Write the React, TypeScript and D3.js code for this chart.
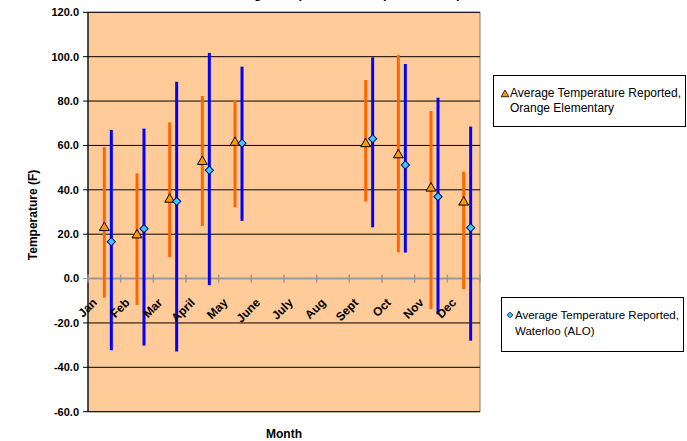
import React from "react";
import * as d3 from "d3";

const months = ["Jan", "Feb", "Mar", "April", "May", "June", "July", "Aug", "Sept", "Oct", "Nov", "Dec"];
const orangeHigh: (number | null)[] = [59.2, 47.4, 70.4, 82.3, 80.5, null, null, null, 89.5, 100.8, 75.5, 48.2];
const orangeLow: (number | null)[] = [-8.6, -11.9, 9.6, 23.7, 32.1, null, null, null, 34.7, 11.8, -13.7, -4.8];
const orangeAvg: (number | null)[] = [22.9, 19.6, 35.7, 52.7, 61.3, null, null, null, 60.7, 55.7, 40.7, 34.4];
const waterlooHigh: (number | null)[] = [67, 67.6, 88.7, 101.7, 95.5, null, null, null, 99.7, 96.7, 81.5, 68.5];
const waterlooLow: (number | null)[] = [-32.3, -30.2, -32.9, -3.0, 26.0, null, null, null, 23.1, 11.7, -16.1, -28];
const waterlooAvg: (number | null)[] = [16.6, 22.5, 34.8, 48.8, 61, null, null, null, 63, 51.2, 36.9, 22.9];
const yTicks = [-60, -40, -20, 0, 20, 40, 60, 80, 100, 120];
const legendOrange = ["Average Temperature Reported,", "Orange Elementary"];
const legendWaterloo = ["Average Temperature Reported,", "Waterloo (ALO)"];
const title = "Average Temperature Comparison Graph";

const W = 687, H = 441;
const L = 88, R = 480, T = 12.3, B = 411.7;

export default function App() {
  const x = d3.scaleBand<string>().domain(months).range([L, R]).paddingInner(0).paddingOuter(0);
  const y = d3.scaleLinear().domain([-60, 120]).range([B, T]);
  const bw = x.bandwidth();
  const cx = (m: string) => (x(m) as number) + bw / 2;
  const off = 7;
  const font = "Arial, 'Liberation Sans', sans-serif";
  const tri = d3.symbol().type(d3.symbolTriangle).size(42)() as string;
  const dia = d3.symbol().type(d3.symbolSquare).size(34)() as string;
  const idx = months.map((_, i) => i);

  return (
    <svg width={W} height={H} style={{ position: "absolute", left: 0, top: 0, background: "#fff" }} fontFamily={font}>
      <text x={345} y={-2} textAnchor="middle" fontWeight="bold" fontSize={13}>{title}</text>
      <rect x={L} y={T} width={R - L} height={B - T} fill="#FFCC99" stroke="#808080" strokeWidth={1} />
      {yTicks.filter(t => t !== 0 && t !== -60).map(t => (
        <line key={"g" + t} x1={L} x2={R} y1={y(t)} y2={y(t)} stroke="#000" strokeWidth={1} />
      ))}
      <line x1={L} x2={R} y1={B} y2={B} stroke="#000" strokeWidth={1} />
      {/* y axis */}
      <line x1={L} x2={L} y1={T} y2={B} stroke="#000" strokeWidth={1.2} />
      {yTicks.map(t => (
        <g key={"yt" + t}>
          <line x1={L - 5} x2={L} y1={y(t)} y2={y(t)} stroke={t === 0 ? "#999" : "#000"} strokeWidth={1} />
          <text x={79} y={y(t)} dy="0.35em" textAnchor="end" fontWeight="bold" fontSize={11}>
            {t.toFixed(1)}
          </text>
        </g>
      ))}
      {/* x axis at 0 */}
      <line x1={L} x2={R} y1={y(0)} y2={y(0)} stroke="#999" strokeWidth={2} />
      {months.map(m => (
        <line key={"xt" + m} x1={(x(m) as number) + bw} x2={(x(m) as number) + bw} y1={y(0) - 4} y2={y(0) + 4} stroke="#999" strokeWidth={1.5} />
      ))}
      <line x1={L} x2={L} y1={y(0) - 4} y2={y(0) + 4} stroke="#999" strokeWidth={1.5} />
      {/* range lines */}
      {idx.filter(i => orangeHigh[i] != null).map(i => (
        <line key={"ob" + i} x1={cx(months[i])} x2={cx(months[i])} y1={y(orangeHigh[i] as number)} y2={y(orangeLow[i] as number)} stroke="#FF6600" strokeWidth={3} />
      ))}
      {idx.filter(i => waterlooHigh[i] != null).map(i => (
        <line key={"wb" + i} x1={cx(months[i]) + off} x2={cx(months[i]) + off} y1={y(waterlooHigh[i] as number)} y2={y(waterlooLow[i] as number)} stroke="#0000FF" strokeWidth={3} />
      ))}
      {/* category labels */}
      {months.map(m => (
        <text key={"xl" + m} transform={`translate(${cx(m) - 13},${297}) rotate(-45)`} textAnchor="end" dy="0.75em" fontWeight="bold" fontSize={12}>
          {m}
        </text>
      ))}
      {/* markers */}
      {idx.filter(i => orangeAvg[i] != null).map(i => (
        <path key={"ot" + i} d={tri} transform={`translate(${cx(months[i])},${y(orangeAvg[i] as number)})`} fill="#FF9900" stroke="#000" strokeWidth={1} />
      ))}
      {idx.filter(i => waterlooAvg[i] != null).map(i => (
        <path key={"wd" + i} d={dia} transform={`translate(${cx(months[i]) + off},${y(waterlooAvg[i] as number)}) rotate(45)`} fill="#33CCFF" stroke="#000080" strokeWidth={1} />
      ))}
      {/* axis titles */}
      <text transform={`translate(37,${(T + B) / 2 + 3}) rotate(-90)`} textAnchor="middle" fontWeight="bold" fontSize={12}>Temperature (F)</text>
      <text x={(L + R) / 2} y={438} textAnchor="middle" fontWeight="bold" fontSize={12}>Month</text>
      {/* legends */}
      <rect x={493.5} y={75.5} width={192} height={51} fill="#fff" stroke="#000" strokeWidth={1} />
      <path d={d3.symbol().type(d3.symbolTriangle).size(26)() as string} transform="translate(505,94.5)" fill="#FF9900" stroke="#000" strokeWidth={0.8} />
      {legendOrange.map((s, k) => (
        <text key={"lo" + k} x={510} y={93 + k * 15} dy="0.35em" fontSize={12}>{s}</text>
      ))}
      <rect x={501.5} y={297.5} width={182} height={54} fill="#fff" stroke="#000" strokeWidth={1} />
      <path d={d3.symbol().type(d3.symbolSquare).size(16)() as string} transform="translate(510,315) rotate(45)" fill="#33CCFF" stroke="#000080" strokeWidth={0.8} />
      {legendWaterloo.map((s, k) => (
        <text key={"lw" + k} x={515} y={315 + k * 16} dy="0.35em" fontSize={11.5}>{s}</text>
      ))}
    </svg>
  );
}
